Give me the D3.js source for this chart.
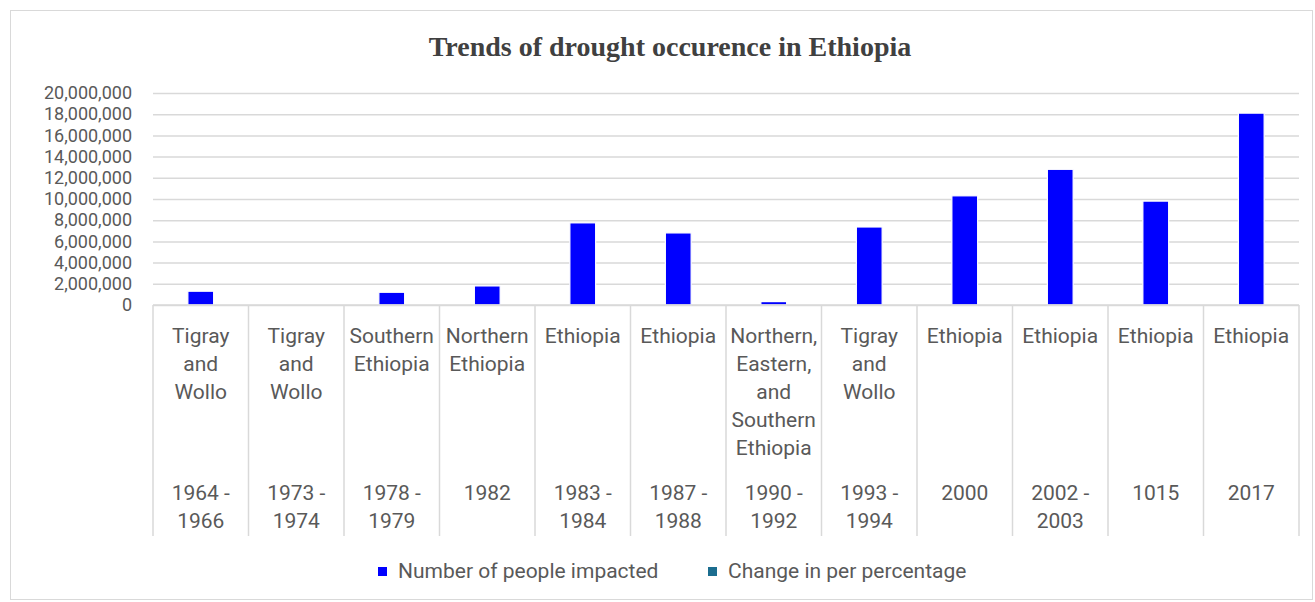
<!DOCTYPE html>
<html>
<head>
<meta charset="utf-8">
<script src="https://cdn.jsdelivr.net/npm/d3@7"></script>
<style>
  body { margin: 0; background: #fff; }
  text { font-family: Roboto, "Liberation Sans", sans-serif; fill: #595959; }
</style>
</head>
<body>
<div id="chart"></div>
<script>
// chart values
const regions = [
  "Tigray\nand\nWollo", "Tigray\nand\nWollo", "Southern\nEthiopia", "Northern\nEthiopia",
  "Ethiopia", "Ethiopia", "Northern,\nEastern,\nand\nSouthern\nEthiopia", "Tigray\nand\nWollo",
  "Ethiopia", "Ethiopia", "Ethiopia", "Ethiopia"
];
const periods = [
  "1964 -\n1966", "1973 -\n1974", "1978 -\n1979", "1982", "1983 -\n1984", "1987 -\n1988",
  "1990 -\n1992", "1993 -\n1994", "2000", "2002 -\n2003", "1015", "2017"
];
const peopleImpacted = [1300000, 0, 1200000, 1800000, 7750000, 6800000, 320000, 7360000, 10300000, 12800000, 9800000, 18100000];
const yTicks = [0, 2e6, 4e6, 6e6, 8e6, 10e6, 12e6, 14e6, 16e6, 18e6, 20e6];
const seriesNames = ["Number of people impacted", "Change in per percentage"];
const seriesColors = ["#0000ff", "#1b6d8f"];

const svgWidth = 1315;
const svgHeight = 602;

// plot area in page pixels
const plot = { left: 153, right: 1299, top: 93, bottom: 305 };

const svg = d3.select("#chart")
  .append("svg")
  .attr("width", svgWidth)
  .attr("height", svgHeight);

// outer chart border
svg.append("rect")
  .attr("x", 10.5).attr("y", 10.5)
  .attr("width", 1302).attr("height", 589)
  .attr("fill", "#fff")
  .attr("stroke", "#d9d9d9");

// title
svg.append("text")
  .attr("x", 670).attr("y", 56)
  .attr("text-anchor", "middle")
  .style("font-family", "'Liberation Serif', 'Times New Roman', serif")
  .style("font-weight", "bold")
  .style("font-size", "28px")
  .style("fill", "#404040")
  .text("Trends of drought occurence in Ethiopia");

const x = d3.scaleBand()
  .domain(d3.range(regions.length))
  .range([plot.left, plot.right])
  .paddingInner(0);

const y = d3.scaleLinear()
  .domain([0, 20e6])
  .range([plot.bottom, plot.top]);

// gridlines + y labels
const leftAxis = d3.axisLeft(y)
  .tickValues(yTicks)
  .tickSize(-(plot.right - plot.left))
  .tickPadding(21)
  .tickFormat(d3.format(","));

const yAxis = svg.append("g")
  .attr("transform", `translate(${plot.left}, 0)`)
  .call(leftAxis);
yAxis.select(".domain").remove();
yAxis.selectAll("line").attr("stroke", "#d9d9d9").attr("stroke-width", 1.5);
yAxis.selectAll("text")
  .style("font-size", "18px")
  .style("fill", "#595959");

// bars
const barWidth = x.bandwidth() * 0.27;
svg.append("g")
  .selectAll("rect")
  .data(peopleImpacted)
  .join("rect")
  .attr("x", (d, i) => x(i) + x.bandwidth() / 2 - barWidth / 2)
  .attr("y", d => y(d))
  .attr("width", barWidth)
  .attr("height", d => y(0) - y(d))
  .attr("fill", seriesColors[0])
  .attr("stroke", d => d > 0 ? "#fff" : "none")
  .attr("stroke-width", 1.2);

// category axis line and dividers
svg.append("line")
  .attr("x1", plot.left).attr("x2", plot.right)
  .attr("y1", plot.bottom).attr("y2", plot.bottom)
  .attr("stroke", "#d9d9d9").attr("stroke-width", 1.5);

const edges = d3.range(regions.length + 1).map(i => i < regions.length ? x(i) : plot.right);
svg.append("g")
  .selectAll("line")
  .data(edges)
  .join("line")
  .attr("x1", d => d).attr("x2", d => d)
  .attr("y1", plot.bottom).attr("y2", 536)
  .attr("stroke", "#d9d9d9").attr("stroke-width", 1.5);

// multi-line category labels
function addLabel(lines, cx, firstY) {
  const t = svg.append("text")
    .attr("text-anchor", "middle")
    .style("font-size", "21px");
  lines.split("\n").forEach((ln, k) => {
    t.append("tspan")
      .attr("x", cx)
      .attr("y", firstY + k * 28)
      .text(ln);
  });
}

regions.forEach((r, i) => addLabel(r, x(i) + x.bandwidth() / 2, 343));
periods.forEach((p, i) => addLabel(p, x(i) + x.bandwidth() / 2, 500));

// legend
const legendX = [378, 708];
seriesNames.forEach((name, i) => {
  svg.append("rect")
    .attr("x", legendX[i]).attr("y", 567)
    .attr("width", 9).attr("height", 9)
    .attr("fill", seriesColors[i]);
  svg.append("text")
    .attr("x", legendX[i] + 20).attr("y", 578)
    .style("font-size", "21px")
    .text(name);
});
</script>
</body>
</html>
